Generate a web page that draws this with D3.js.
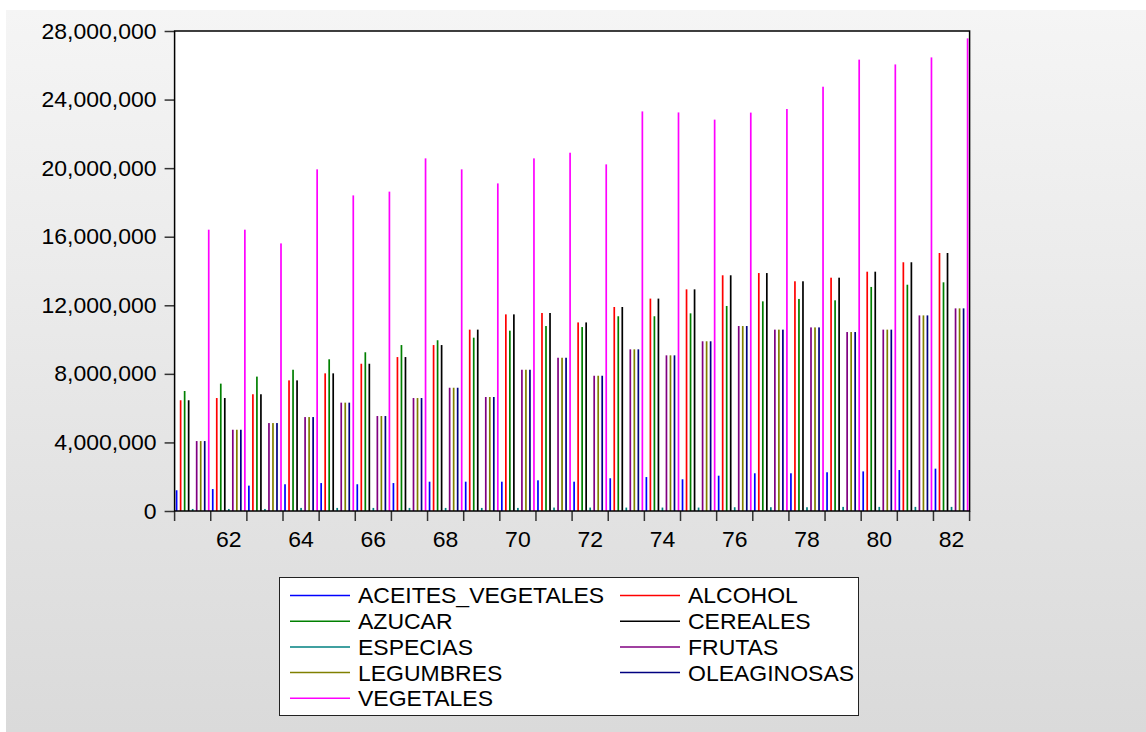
<!DOCTYPE html>
<html>
<head>
<meta charset="utf-8">
<script src="https://cdn.jsdelivr.net/npm/d3@7"></script>
<style>
  html, body { margin: 0; padding: 0; background: #ffffff; }
  svg { display: block; }
  text { font-family: "Liberation Sans", Arial, sans-serif; fill: #000; }
</style>
</head>
<body>
<svg id="chart" width="1146" height="732"></svg>
<script>
// ---------- data ----------
const years = [1961,1962,1963,1964,1965,1966,1967,1968,1969,1970,1971,1972,1973,1974,1975,1976,1977,1978,1979,1980,1981,1982];
const seriesNames = ["ACEITES_VEGETALES","ALCOHOL","AZUCAR","CEREALES","ESPECIAS","FRUTAS","LEGUMBRES","OLEAGINOSAS","VEGETALES"];
const seriesColors = ["#0000ff","#ff0000","#008000","#000000","#008080","#800080","#808000","#000080","#ff00ff"];

const aceitesVegetales = [1.21,1.28,1.48,1.56,1.63,1.56,1.63,1.71,1.71,1.71,1.79,1.71,1.91,1.98,1.85,2.06,2.20,2.20,2.26,2.31,2.39,2.47];
const alcohol          = [6.46,6.59,6.81,7.62,8.03,8.59,8.98,9.68,10.58,11.47,11.55,11.00,11.90,12.39,12.93,13.75,13.88,13.40,13.61,13.96,14.51,15.05];
const azucar           = [7.00,7.43,7.84,8.24,8.85,9.26,9.68,9.96,10.11,10.52,10.79,10.73,11.36,11.36,11.53,11.96,12.23,12.37,12.29,13.07,13.20,13.34];
const cereales         = [6.46,6.59,6.81,7.62,8.03,8.59,8.98,9.68,10.58,11.47,11.55,11.00,11.90,12.39,12.93,13.75,13.88,13.40,13.61,13.96,14.51,15.05];
const especias         = [0.12,0.12,0.12,0.18,0.18,0.18,0.18,0.18,0.18,0.18,0.20,0.20,0.20,0.20,0.20,0.22,0.22,0.22,0.24,0.24,0.24,0.24];
const frutas           = [4.08,4.74,5.13,5.48,6.32,5.54,6.59,7.19,6.65,8.24,8.94,7.89,9.43,9.08,9.90,10.79,10.58,10.71,10.44,10.58,11.41,11.82];
const legumbres        = [4.08,4.74,5.13,5.48,6.32,5.54,6.59,7.19,6.65,8.24,8.94,7.89,9.43,9.08,9.90,10.79,10.58,10.71,10.44,10.58,11.41,11.82];
const oleaginosas      = [4.08,4.74,5.13,5.48,6.32,5.54,6.59,7.19,6.65,8.24,8.94,7.89,9.43,9.08,9.90,10.79,10.58,10.71,10.44,10.58,11.41,11.82];
const vegetales        = [16.41,16.41,15.61,19.93,18.41,18.63,20.57,19.93,19.11,20.57,20.90,20.22,23.31,23.25,22.83,23.24,23.45,24.75,26.33,26.05,26.46,27.57];

const yTicks = [0,4000000,8000000,12000000,16000000,20000000,24000000,28000000];
const xLabelYears = [1962,1964,1966,1968,1970,1972,1974,1976,1978,1980,1982];

const seriesValues = [aceitesVegetales, alcohol, azucar, cereales, especias, frutas, legumbres, oleaginosas, vegetales];
const UNIT = 1e6;

// ---------- layout ----------
const svg = d3.select("#chart");
const W = 1146, H = 732;
const plot = { left: 174.6, right: 969.6, top: 31, bottom: 511 };
const STRETCH = 1.045;

// background panel with gradient
const defs = svg.append("defs");
const grad = defs.append("linearGradient").attr("id","bg").attr("x1",0).attr("y1",0).attr("x2",0).attr("y2",1);
grad.append("stop").attr("offset","0%").attr("stop-color","#f5f5f5");
grad.append("stop").attr("offset","100%").attr("stop-color","#dadada");
svg.append("rect").attr("x",6).attr("y",10).attr("width",W-6).attr("height",H-10).attr("fill","url(#bg)");

// plot background
svg.append("rect")
  .attr("x", plot.left).attr("y", plot.top)
  .attr("width", plot.right - plot.left).attr("height", plot.bottom - plot.top)
  .attr("fill", "#ffffff");

// scales
const x0 = d3.scaleBand().domain(years).range([plot.left, plot.right]).padding(0);
const x1 = d3.scaleBand().domain(seriesNames).range([0, x0.bandwidth()]).padding(0);
const y = d3.scaleLinear().domain([0, 28000000]).range([plot.bottom, plot.top]);

// bars
const barW = 1.7;
const gBars = svg.append("g");
seriesNames.forEach((name, si) => {
  const vals = seriesValues[si];
  gBars.append("g")
    .selectAll("rect")
    .data(years.map((yr, i) => ({ yr, v: vals[i] * UNIT })))
    .join("rect")
    .attr("x", d => x0(d.yr) + x1(name) + x1.bandwidth() / 2 - barW / 2)
    .attr("y", d => y(d.v))
    .attr("width", barW)
    .attr("height", d => y(0) - y(d.v))
    .attr("fill", seriesColors[si]);
});

// y axis
const fmt = d3.format(",");
const yAxis = d3.axisLeft(y).tickValues(yTicks).tickFormat(d => fmt(d)).tickSize(10).tickPadding(8);
const gy = svg.append("g").attr("transform", `translate(${plot.left},0)`).call(yAxis);
gy.select(".domain").remove();
gy.selectAll(".tick line").attr("stroke", "#333").attr("stroke-width", 1.5);
gy.selectAll(".tick text").attr("font-size", 22).attr("font-family", "'Liberation Sans', Arial, sans-serif").attr("fill","#000");

// x axis ticks at year boundaries
const boundaries = years.map(yr => x0(yr)).concat([x0(years[years.length-1]) + x0.bandwidth()]);
svg.append("g").selectAll("line")
  .data(boundaries)
  .join("line")
  .attr("x1", d => d).attr("x2", d => d)
  .attr("y1", plot.bottom).attr("y2", plot.bottom + 10)
  .attr("stroke", "#333").attr("stroke-width", 1.5);

svg.append("g").attr("class","xlab").selectAll("text")
  .data(xLabelYears)
  .join("text")
  .attr("x", d => x0(d) + x0.bandwidth() / 2)
  .attr("y", 547)
  .attr("text-anchor", "middle")
  .attr("font-size", 22)
  .text(d => String(d).slice(2));

// plot frame
svg.append("rect")
  .attr("x", plot.left).attr("y", plot.top)
  .attr("width", plot.right - plot.left).attr("height", plot.bottom - plot.top)
  .attr("fill", "none").attr("stroke", "#000").attr("stroke-width", 1.5);

// legend
const leg = { x: 279.5, y: 577.5, w: 579, h: 138 };
svg.append("rect")
  .attr("x", leg.x).attr("y", leg.y).attr("width", leg.w).attr("height", leg.h)
  .attr("fill", "#ffffff").attr("stroke", "#222").attr("stroke-width", 1);

const legendItems = seriesNames.map((n, i) => ({ name: n, color: seriesColors[i], col: i % 2, row: Math.floor(i / 2) }));
const colX = [290, 620];
const gl = svg.append("g").selectAll("g").data(legendItems).join("g")
  .attr("transform", d => `translate(${colX[d.col]},${595.5 + d.row * 25.7})`);
gl.append("line").attr("x1", 0).attr("x2", 60).attr("y1", 0).attr("y2", 0)
  .attr("stroke", d => d.color).attr("stroke-width", 1.5);
gl.append("text").attr("x", 68).attr("y", 0).attr("dy", "0.36em")
  .attr("font-size", 22).text(d => d.name);

// slight horizontal widening of glyphs to match the reference rendering
svg.selectAll("text").each(function() {
  const len = this.getComputedTextLength();
  d3.select(this).attr("textLength", len * STRETCH).attr("lengthAdjust", "spacingAndGlyphs");
});
</script>
</body>
</html>
